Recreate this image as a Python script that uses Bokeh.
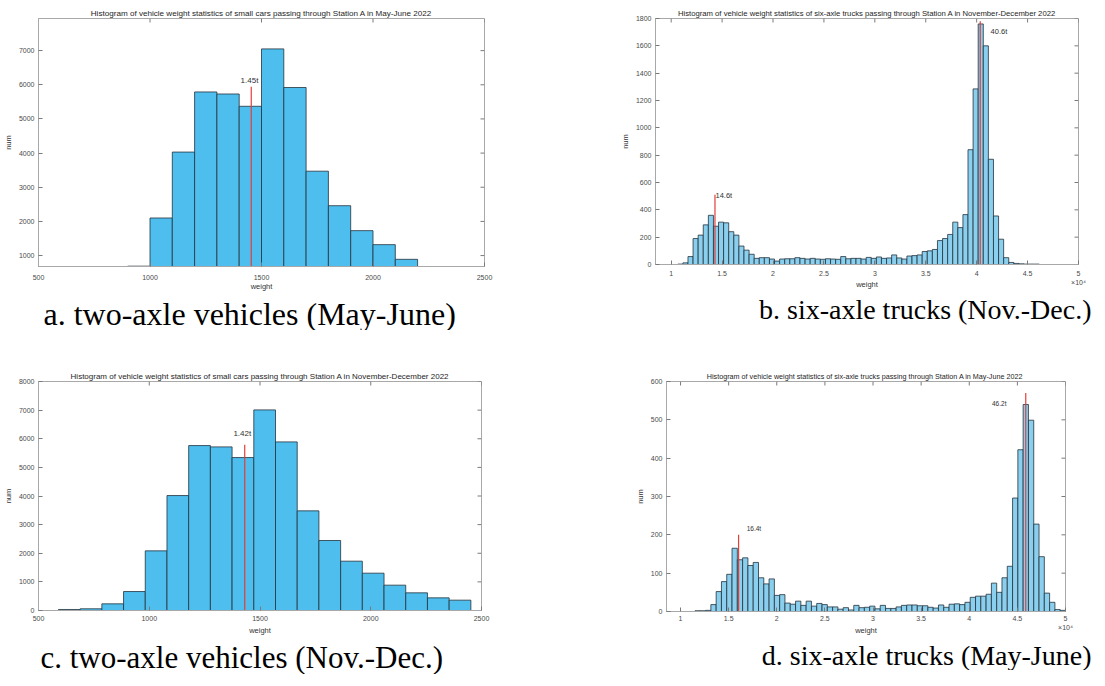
import math
from bokeh.plotting import figure
from bokeh.models import Range1d, FixedTicker, Title, ColumnDataSource, LinearAxis
from bokeh.layouts import column, row
from bokeh.embed import file_html
from bokeh.resources import INLINE
from bokeh.core.properties import value

# ---------------- data ----------------
# a. two-axle vehicles (May-June)
a_title = "Histogram of vehicle weight statistics of small cars passing through Station A in May-June 2022"
a_caption = "a. two-axle vehicles (May-June)"
a_bin_start = 900
a_bin_width = 100
a_counts = [690, 2100, 4030, 5790, 5730, 5370, 7050, 5920, 3470, 2460, 1730, 1320, 890]
a_mark_x = [1454]
a_mark_top = [5940]
a_mark_text = ["1.45t"]
a_text_x = [1446]
a_text_y = [6122]

# b. six-axle trucks (Nov.-Dec.)
b_title = "Histogram of vehicle weight statistics of six-axle trucks passing through Station A in November-December 2022"
b_caption = "b. six-axle trucks (Nov.-Dec.)"
b_bin_start = 10650
b_bin_width = 500
b_counts = [3, 12, 58, 190, 215, 290, 360, 280, 310, 305, 240, 215, 135, 105, 75, 45, 50, 50, 40, 25, 40,
            42, 42, 50, 45, 40, 45, 40, 38, 42, 40, 38, 58, 42, 45, 45, 40, 52, 45, 55, 45, 48, 70, 48, 40,
            62, 65, 70,
            95, 100, 110, 175, 190, 220, 310, 270, 365, 840, 1285, 1760, 1600, 770, 355, 185, 50, 15, 8, 5, 3, 3, 3]
b_mark_x = [14300, 40350]
b_mark_top = [510, 1780]
b_mark_text = ["14.6t", "40.6t"]
b_text_x = [14350, 41370]
b_text_y = [508, 1702]

# c. two-axle vehicles (Nov.-Dec.)
c_title = "Histogram of vehicle weight statistics of small cars passing through Station A in November-December 2022"
c_caption = "c. two-axle vehicles (Nov.-Dec.)"
c_bin_start = 590
c_bin_width = 98
c_counts = [35, 60, 233, 663, 2084, 4016, 5762, 5716, 5343, 7008, 5890, 3481, 2445, 1723, 1304, 885, 617, 442, 361]
c_mark_x = [1431]
c_mark_top = [5790]
c_mark_text = ["1.42t"]
c_text_x = [1420]
c_text_y = [6193]

# d. six-axle trucks (May-June)
d_title = "Histogram of vehicle weight statistics of six-axle trucks passing through Station A in May-June  2022"
d_caption = "d. six-axle trucks (May-June)"
d_bin_start = 11500
d_bin_width = 550
d_counts = [2, 2, 3, 18, 52, 78, 97, 165, 135, 140, 120, 128, 88, 72, 85,
            42, 44, 22, 19, 27, 16, 27, 14, 21, 18, 12, 12, 6, 10, 4, 16, 10, 11, 14, 7, 16, 8, 8, 12, 16,
            17, 17, 15, 15, 11, 9, 17, 11, 19, 20, 18, 24, 37, 40, 40, 45, 74, 50, 88, 118, 296, 422,
            540, 499, 228, 143, 48, 24, 5, 3]
d_mark_x = [16030, 45870]
d_mark_top = [200, 570]
d_mark_text = ["16.4t", "46.2t"]
d_text_x = [16870, 42360]
d_text_y = [217, 542]

small_xticks = [500, 1000, 1500, 2000, 2500]
truck_xticks = [10000, 15000, 20000, 25000, 30000, 35000, 40000, 45000, 50000]
truck_xlabels = ["1", "1.5", "2", "2.5", "3", "3.5", "4", "4.5", "5"]
truck_exponent = "×10⁴"

# ---------------- styling ----------------
SANS = "Liberation Sans"
SERIF = "Liberation Serif"
AX = "#a8a8a8"
TICKC = "#7a7a7a"
TICK_TXT = "#4a4a4a"
SMALL_FILL = "#4DBEEE"
TRUCK_FILL = "#8ACFEE"
EDGE = "#24323c"
RED = "#e0403a"


def style_axis(ax):
    ax.axis_line_color = AX
    ax.major_tick_line_color = TICKC
    ax.major_tick_in = 4
    ax.major_tick_out = 0
    ax.minor_tick_line_color = None
    ax.major_label_text_font = SANS
    ax.major_label_text_font_size = "7px"
    ax.major_label_text_color = TICK_TXT
    ax.axis_label_text_font = SANS
    ax.axis_label_text_font_size = "7.5px"
    ax.axis_label_text_font_style = "normal"
    ax.axis_label_text_color = "#333333"


def build(title, title_size, caption, cap_size, cap_align, cap_off, start, width, counts, fill, xr, yr,
          xt, xlabels, yt, mark_x, mark_top, mark_text, text_x, text_y, text_align, text_size,
          fw, fh, bl, br, bt, bb, xlab_standoff=3, xtick_standoff=4, exponent=None):
    lefts = [start + width * i for i in range(len(counts))]
    rights = [l + width for l in lefts]
    src = ColumnDataSource(dict(left=lefts, right=rights, top=counts, bottom=[0] * len(counts)))

    p = figure(frame_width=fw, frame_height=fh, min_border_left=bl, min_border_right=br,
               min_border_top=bt, min_border_bottom=bb,
               x_range=Range1d(*xr), y_range=Range1d(*yr),
               output_backend="svg", toolbar_location=None, tools="")
    p.background_fill_color = "white"
    p.border_fill_color = "white"
    p.outline_line_color = AX
    p.xgrid.visible = False
    p.ygrid.visible = False

    p.title.text = title
    p.title.align = "center"
    p.title.text_font = SANS
    p.title.text_font_size = title_size
    p.title.text_font_style = "normal"
    p.title.text_color = "#1e1e1e"
    p.title.standoff = 2
    p.title.offset = 0

    p.quad(left="left", right="right", top="top", bottom="bottom", source=src,
           fill_color=fill, line_color=EDGE, line_width=0.8)

    ms = ColumnDataSource(dict(x=mark_x, y0=[0] * len(mark_x), y1=mark_top))
    p.segment(x0="x", y0="y0", x1="x", y1="y1", source=ms, line_color=RED, line_width=1.2)
    ts = ColumnDataSource(dict(x=text_x, y=text_y, t=mark_text))
    p.text(x="x", y="y", text="t", source=ts, text_font=value(SANS), text_font_size=text_size,
           text_align=text_align, text_baseline="middle", text_color="#303030")

    # mirrored inward ticks on the top and right edges (box style)
    p.ray(x=xt, y=[yr[1]] * len(xt), length=4, length_units="screen", angle=-math.pi / 2,
          line_color=TICKC, line_width=1)
    p.ray(x=[xr[1]] * len(yt), y=yt, length=4, length_units="screen", angle=math.pi,
          line_color=TICKC, line_width=1)

    for ax in p.xaxis:
        ax.ticker = FixedTicker(ticks=xt)
        if xlabels is not None:
            ax.major_label_overrides = {t: l for t, l in zip(xt, xlabels)}
        style_axis(ax)
        ax.major_label_standoff = xtick_standoff
        if exponent is None:
            ax.axis_label = "weight"
            ax.axis_label_standoff = xlab_standoff
    for ax in p.yaxis:
        ax.ticker = FixedTicker(ticks=yt)
        ax.axis_label = "num"
        style_axis(ax)
        ax.major_label_standoff = 4
        ax.axis_label_standoff = 3

    if exponent is not None:
        # second, line-less axis carrying the x10^4 multiplier and the axis title
        ex = LinearAxis(ticker=FixedTicker(ticks=[xr[1]]),
                        major_label_overrides={xr[1]: exponent})
        style_axis(ex)
        ex.axis_line_color = None
        ex.major_tick_line_color = None
        ex.major_tick_in = 0
        ex.major_tick_out = 0
        ex.major_label_standoff = 0
        ex.axis_label = "weight"
        ex.axis_label_standoff = xlab_standoff
        p.add_layout(ex, "below")

    p.add_layout(Title(text=caption, align=cap_align, offset=cap_off, text_font=SERIF,
                       text_font_size=cap_size, text_font_style="normal", text_color="#000000",
                       standoff=0), "below")
    return p


pa = build(a_title, "8.1px", a_caption, "32px", "left", 5, a_bin_start, a_bin_width, a_counts, SMALL_FILL,
           (500, 2500), (680, 7940), small_xticks, None, [1000, 2000, 3000, 4000, 5000, 6000, 7000],
           a_mark_x, a_mark_top, a_mark_text, a_text_x, a_text_y, "center", "8px",
           446, 248, 32, 67, 17, 65, xlab_standoff=-1, xtick_standoff=8)

pb = build(b_title, "7.7px", b_caption, "28px", "right", -13, b_bin_start, b_bin_width, b_counts, TRUCK_FILL,
           (8460, 50000), (0, 1800), truck_xticks, truck_xlabels,
           [0, 200, 400, 600, 800, 1000, 1200, 1400, 1600, 1800],
           b_mark_x, b_mark_top, b_mark_text, b_text_x, b_text_y, "left", "7.5px",
           423, 246, 104, 17, 18, 66, xlab_standoff=-9, xtick_standoff=6, exponent=truck_exponent)

pc = build(c_title, "8px", c_caption, "31px", "left", 2, c_bin_start, c_bin_width, c_counts, SMALL_FILL,
           (500, 2500), (0, 8000), small_xticks, None,
           [0, 1000, 2000, 3000, 4000, 5000, 6000, 7000, 8000],
           c_mark_x, c_mark_top, c_mark_text, c_text_x, c_text_y, "center", "8px",
           443, 229, 32, 70, 51, 60, xlab_standoff=2, xtick_standoff=5)

pd_ = build(d_title, "7.2px", d_caption, "28px", "right", -26, d_bin_start, d_bin_width, d_counts, TRUCK_FILL,
            (8540, 50000), (0, 600), truck_xticks, truck_xlabels,
            [0, 100, 200, 300, 400, 500, 600],
            d_mark_x, d_mark_top, d_mark_text, d_text_x, d_text_y, "left", "6.5px",
            399, 230, 115, 30, 50, 60, xlab_standoff=-8, xtick_standoff=4, exponent=truck_exponent)

layout = column(row(pa, pb), row(pc, pd_))
open("out.html", "w").write(file_html(layout, INLINE))
